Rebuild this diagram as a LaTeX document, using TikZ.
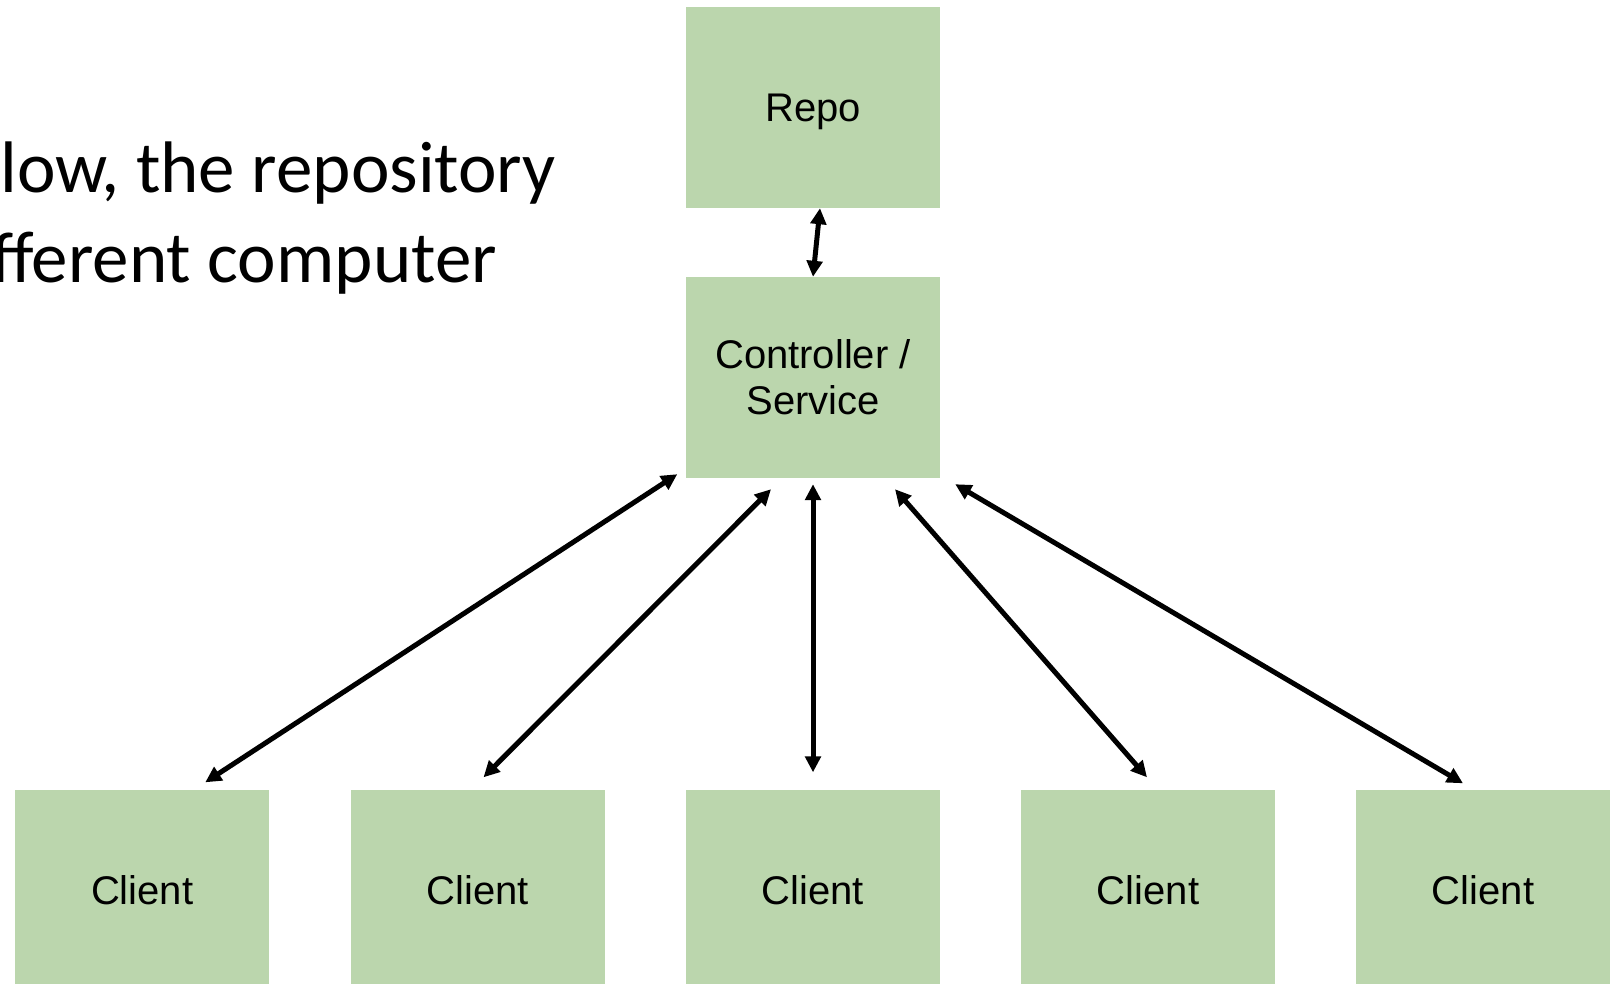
\documentclass[tikz,border=0pt]{standalone}
\usepackage{fontspec}
\setmainfont{Liberation Sans}
\newfontfamily\bodyfont{Carlito}
\usetikzlibrary{arrows.meta}
\definecolor{boxgreen}{RGB}{187,214,173}
\begin{document}
\begin{tikzpicture}[x=1pt,y=-1pt,
  block/.style={fill=boxgreen, draw=none, inner sep=0pt,
    minimum width=254pt, minimum height=201pt,
    font=\fontsize{40}{46}\selectfont, align=center},
  conn/.style={line width=5pt, {Triangle[length=16pt,width=15.5pt]}-{Triangle[length=16pt,width=15.5pt]}},
  slide/.style={font=\bodyfont\fontsize{73}{88}\selectfont, inner sep=0pt, anchor=base east}]
  \useasboundingbox (0,0) rectangle (1616,984);

  % slide text, running in from the left edge
  \node[slide] (line1) at (556,193) {low, the repository};
  \node[slide] (line2) at (497,283) {fferent computer};

  % boxes
  \node[block, text depth=0pt] (repo) at (813,107.5) {Repo};
  \node[block] (ctrl) at (813,377.5) {Controller /\\Service};
  \node[block] (c1) at (142.25,890) {Client};
  \node[block] (c2) at (478,890) {Client};
  \node[block] (c3) at (813,890) {Client};
  \node[block] (c4) at (1148,890) {Client};
  \node[block] (c5) at (1483,890) {Client};

  % two-way links
  \draw[conn] ([shift={(7,0)}]repo.south) -- (ctrl.north);
  \draw[conn] ([shift={(-8.5,-4)}]ctrl.south west) -- ([shift={(63,-7)}]c1.north);
  \draw[conn] ([shift={(-42,11)}]ctrl.south) -- ([shift={(5.5,-12)}]c2.north);
  \draw[conn] ([shift={(0,6)}]ctrl.south) -- ([shift={(0,-17)}]c3.north);
  \draw[conn] ([shift={(82,11)}]ctrl.south) -- ([shift={(-1,-12)}]c4.north);
  \draw[conn] ([shift={(15,6)}]ctrl.south east) -- ([shift={(-20,-6)}]c5.north);
\end{tikzpicture}
\end{document}
